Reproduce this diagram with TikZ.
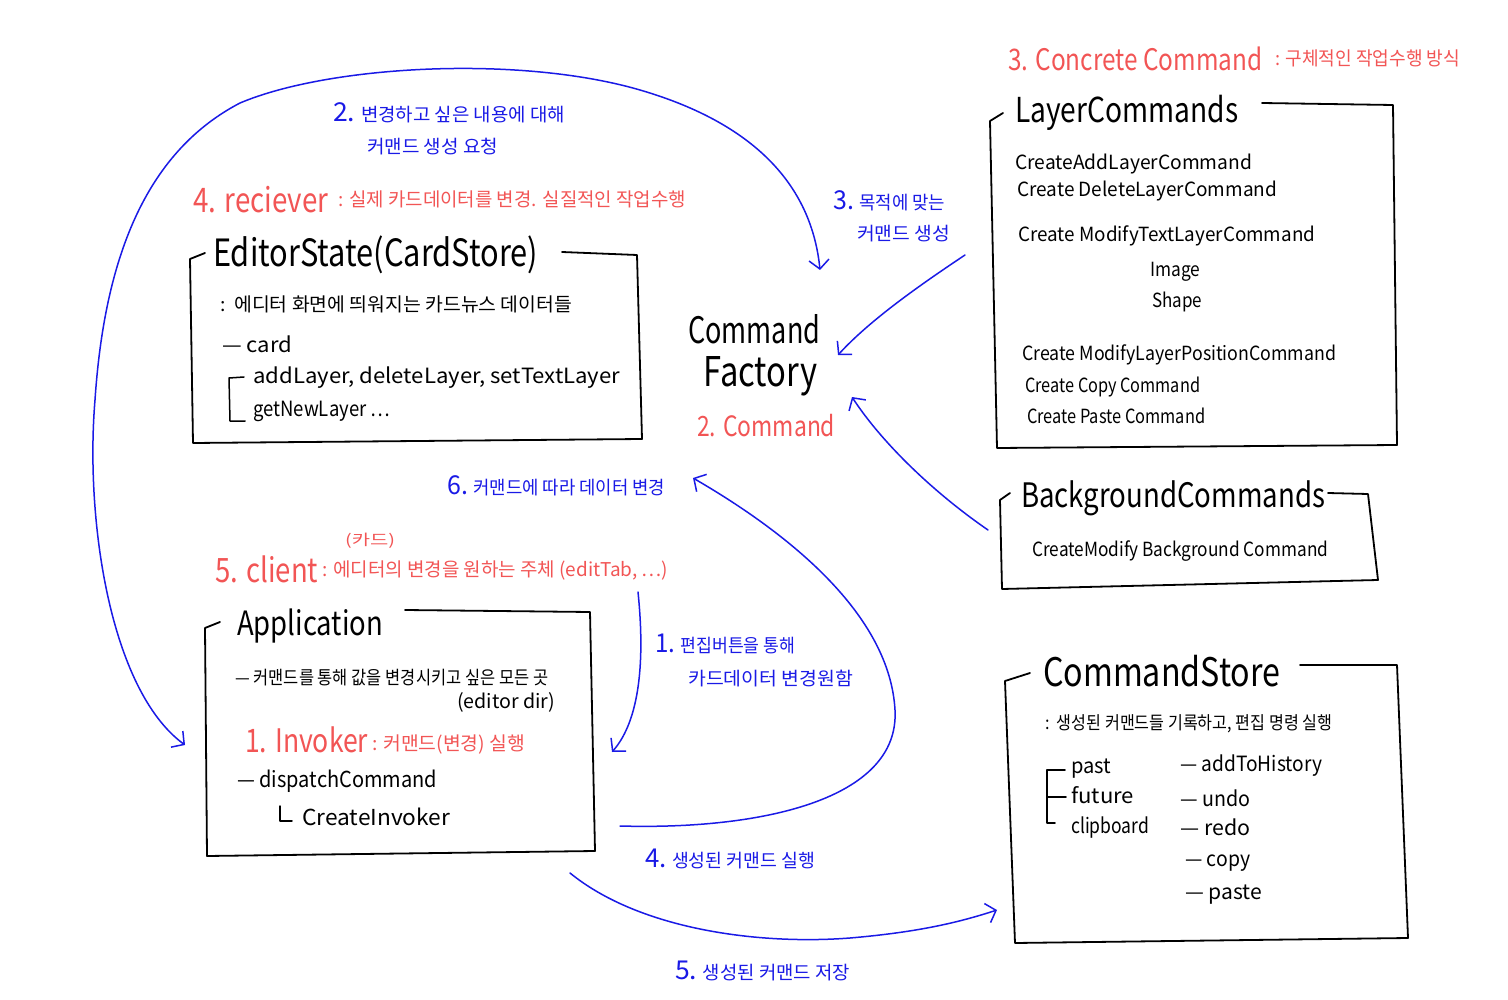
\documentclass[tikz,border=0pt]{standalone}
\usepackage{fontspec}
\usepackage{graphicx}
\setmainfont{Noto Sans CJK KR}
\usetikzlibrary{arrows.meta}
\definecolor{hred}{HTML}{F25555}
\definecolor{hblue}{HTML}{1A1AE6}
\newcommand\fsz[1]{\fontsize{#1}{#1}\selectfont}
\newcommand\fw[2]{\resizebox{#1pt}{!}{#2}}
\newcommand\fx[2]{\resizebox{#1pt}{\height}{#2}}
\newcommand\tallt[1]{\scalebox{1}[1.22]{#1}}
\begin{document}
\begin{tikzpicture}[x=1pt,y=-1pt,
  txt/.style={inner sep=0pt, anchor=base west, font=\fsz{20}},
  redtxt/.style={txt, text=hred},
  bluetxt/.style={txt, text=hblue, font=\fsz{18.5}},
  blacktxt/.style={txt, text=black},
  body/.style={txt, text=black, font=\fsz{19.5}},
  boxline/.style={line width=1.8pt, line join=round, line cap=round, black},
  flow/.style={hblue, line width=1.5pt, line cap=round, line join=round,
    -{Straight Barb[length=9pt,width=20pt,line width=1.5pt]}},
  flowboth/.style={hblue, line width=1.5pt, line cap=round, line join=round,
    {Straight Barb[length=9pt,width=20pt,line width=1.5pt]}-{Straight Barb[length=9pt,width=20pt,line width=1.5pt]}}
]
\useasboundingbox[fill=white] (0,0) rectangle (1508,1000);

% ---------- boxes ----------
\draw[boxline] (205,253) -- (190,259) -- (193,443) -- (642,439) -- (637,255) -- (562,252);
\draw[boxline] (220,622) -- (205,628) -- (207,856) -- (595,851) -- (590,612) -- (405,610);
\draw[boxline] (1003,113) -- (990,121) -- (997,448) -- (1397,445) -- (1393,105) -- (1262,103);
\draw[boxline] (1010,493) -- (1000,500) -- (1002,589) -- (1378,580) -- (1368,494) -- (1328,493);
\draw[boxline] (1030,673) -- (1005,681) -- (1015,943) -- (1408,938) -- (1397,665) -- (1300,665);

% ---------- red headings ----------
\node[redtxt] (h3a) at (1008,71) {\fw{254}{\tallt{3. Concrete Command}}};
\node[redtxt, font=\fsz{19}] (h3b) at (1275,66) {\fx{185}{: 구체적인 작업수행 방식}};
\node[redtxt] (h4a) at (193,213) {\fw{135}{\tallt{4. reciever}}};
\node[redtxt, font=\fsz{19}] (h4b) at (338,207) {\fx{348}{: 실제 카드데이터를 변경. 실질적인 작업수행}};
\node[redtxt, font=\fsz{15}] (h5c) at (345,545) {\fx{50}{(카드)}};
\node[redtxt] (h5a) at (215,582) {\fw{103}{\tallt{5. client}}};
\node[redtxt, font=\fsz{19}] (h5b) at (322,576) {\fx{346}{: 에디터의 변경을 원하는 주체 (editTab, ⋯)}};
\node[redtxt] (h1a) at (245,752) {\fw{123}{\tallt{1. Invoker}}};
\node[redtxt, font=\fsz{19}] (h1b) at (372,750) {\fx{153}{: 커맨드(변경) 실행}};
\node[redtxt] (h2) at (697,436) {\fw{138}{\tallt{2. Command}}};

% ---------- command factory ----------
\node[blacktxt] (cf1) at (688,343) {\fw{132}{\scalebox{1}[1.35]{Command}}};
\node[blacktxt] (cf2) at (703,386) {\fw{114}{\scalebox{1}[1.25]{Factory}}};

% ---------- box titles ----------
\node[blacktxt] (tEditor) at (213,267) {\fw{325}{\tallt{EditorState(CardStore)}}};
\node[blacktxt] (tApp) at (237,635) {\fw{146}{\tallt{Application}}};
\node[blacktxt] (tLayer) at (1015,123) {\fw{223}{\tallt{LayerCommands}}};
\node[blacktxt] (tBg) at (1021,507) {\fw{304}{\tallt{BackgroundCommands}}};
\node[blacktxt] (tStore) at (1043,686) {\fw{237}{\tallt{CommandStore}}};

% ---------- EditorState content ----------
\node[body, font=\fsz{19}] (e1) at (220,312) {\fx{352}{:\ \ 에디터 화면에 띄워지는 카드뉴스 데이터들}};
\node[body, font=\fsz{21}] (e2) at (222,353) {\fx{70}{— card}};
\node[body, font=\fsz{21}] (e3) at (253,384) {\fx{367}{addLayer, deleteLayer, setTextLayer}};
\node[body, font=\fsz{21}] (e4) at (253,417) {\fx{137}{getNewLayer ⋯}};
\draw[boxline, line width=1.5pt] (244,377) -- (229,378) -- (230,421) -- (245,421);

% ---------- LayerCommands content ----------
\node[body] (l1) at (1015,170) {\fx{237}{CreateAddLayerCommand}};
\node[body] (l2) at (1017,197) {\fx{260}{Create DeleteLayerCommand}};
\node[body] (l3) at (1018,242) {\fx{297}{Create ModifyTextLayerCommand}};
\node[body] (l4) at (1150,277) {\fx{50}{Image}};
\node[body] (l5) at (1152,308) {\fx{50}{Shape}};
\node[body] (l6) at (1022,360) {\fx{314}{Create ModifyLayerPositionCommand}};
\node[body] (l7) at (1025,392) {\fx{175}{Create Copy Command}};
\node[body] (l8) at (1027,423) {\fx{178}{Create Paste Command}};

% ---------- BackgroundCommands content ----------
\node[body] (bg1) at (1032,556) {\fx{296}{CreateModify Background Command}};

% ---------- Application content ----------
\node[body, font=\fsz{18.5}] (a1) at (235,684) {\fx{313}{— 커맨드를 통해 값을 변경시키고 싶은 모든 곳}};
\node[body] (a2) at (457,708) {\fx{98}{(editor dir)}};
\node[body, font=\fsz{22}] (a3) at (237,787) {\fx{200}{— dispatchCommand}};
\node[body, font=\fsz{22}] (a4) at (302,825) {\fx{148}{CreateInvoker}};
\draw[boxline, line width=1.5pt] (280,806) -- (280,821) -- (292,821);

% ---------- CommandStore content ----------
\node[body, font=\fsz{18}] (s1) at (1045,729) {\fx{287}{:\ \ 생성된 커맨드들 기록하고, 편집 명령 실행}};
\node[body, font=\fsz{21}] (s2) at (1071,773) {\fx{40}{past}};
\node[body, font=\fsz{21}] (s3) at (1071,803) {\fx{63}{future}};
\node[body, font=\fsz{21}] (s4) at (1071,833) {\fx{78}{clipboard}};
\draw[boxline, line width=1.5pt] (1065,770) -- (1047,770) -- (1047,823) -- (1055,823);
\draw[boxline, line width=1.5pt] (1047,797) -- (1066,797);
\node[body, font=\fsz{21}] (s5) at (1180,771) {\fx{142}{— addToHistory}};
\node[body, font=\fsz{21}] (s6) at (1180,806) {\fx{70}{— undo}};
\node[body, font=\fsz{21}] (s7) at (1180,835) {\fx{70}{— redo}};
\node[body, font=\fsz{21}] (s8) at (1185,866) {\fx{65}{— copy}};
\node[body, font=\fsz{21}] (s9) at (1185,899) {\fx{77}{— paste}};

% ---------- blue labels ----------
\node[bluetxt] (b2a) at (333,122) {\fx{232}{{\fsz{26}2.} 변경하고 싶은 내용에 대해}};
\node[bluetxt] (b2b) at (367,154) {\fx{131}{커맨드 생성 요청}};
\node[bluetxt] (b3a) at (833,210) {\fx{112}{{\fsz{26}3.} 목적에 맞는}};
\node[bluetxt] (b3b) at (857,241) {\fx{93}{커맨드 생성}};
\node[bluetxt] (b6) at (447,494) {\fx{218}{{\fsz{26}6.} 커맨드에 따라 데이터 변경}};
\node[bluetxt] (b1a) at (655,652) {\fx{140}{{\fsz{26}1.} 편집버튼을 통해}};
\node[bluetxt] (b1b) at (688,685) {\fx{165}{카드데이터 변경원함}};
\node[bluetxt] (b4) at (645,867) {\fx{170}{{\fsz{26}4.} 생성된 커맨드 실행}};
\node[bluetxt] (b5) at (675,979) {\fx{175}{{\fsz{26}5.} 생성된 커맨드 저장}};

% ---------- connector end points ----------
\coordinate (pAppL) at (185,745);
\coordinate (pCFtop) at (820,270);
\coordinate (pLayerL) at (965,255);
\coordinate (pCFright) at (838,355);
\coordinate (pBgL) at (988,530);
\coordinate (pCFlow) at (852,397);
\coordinate (pOneS) at (638,592);
\coordinate (pAppR) at (612,752);
\coordinate (pAppBR) at (620,826);
\coordinate (pCmd) at (693,478);
\coordinate (pAppB) at (570,873);
\coordinate (pStoreL) at (997,910);

% ---------- connectors ----------
\draw[flowboth] (pAppL) .. controls (110,690) and (85,520) .. (95,400)
  .. controls (105,250) and (150,150) .. (240,103)
  .. controls (330,65) and (520,55) .. (640,90)
  .. controls (760,125) and (812,190) .. (pCFtop);
\draw[flow] (pLayerL) .. controls (920,285) and (870,320) .. (pCFright);
\draw[flow] (pBgL) .. controls (930,490) and (880,440) .. (pCFlow);
\draw[flow] (pOneS) .. controls (645,660) and (640,720) .. (pAppR);
\draw[flow] (pAppBR) .. controls (760,830) and (900,800) .. (895,710)
  .. controls (890,620) and (800,540) .. (pCmd);
\draw[flow] (pAppB) .. controls (640,930) and (760,945) .. (850,938)
  .. controls (920,932) and (960,922) .. (pStoreL);
\end{tikzpicture}
\end{document}
